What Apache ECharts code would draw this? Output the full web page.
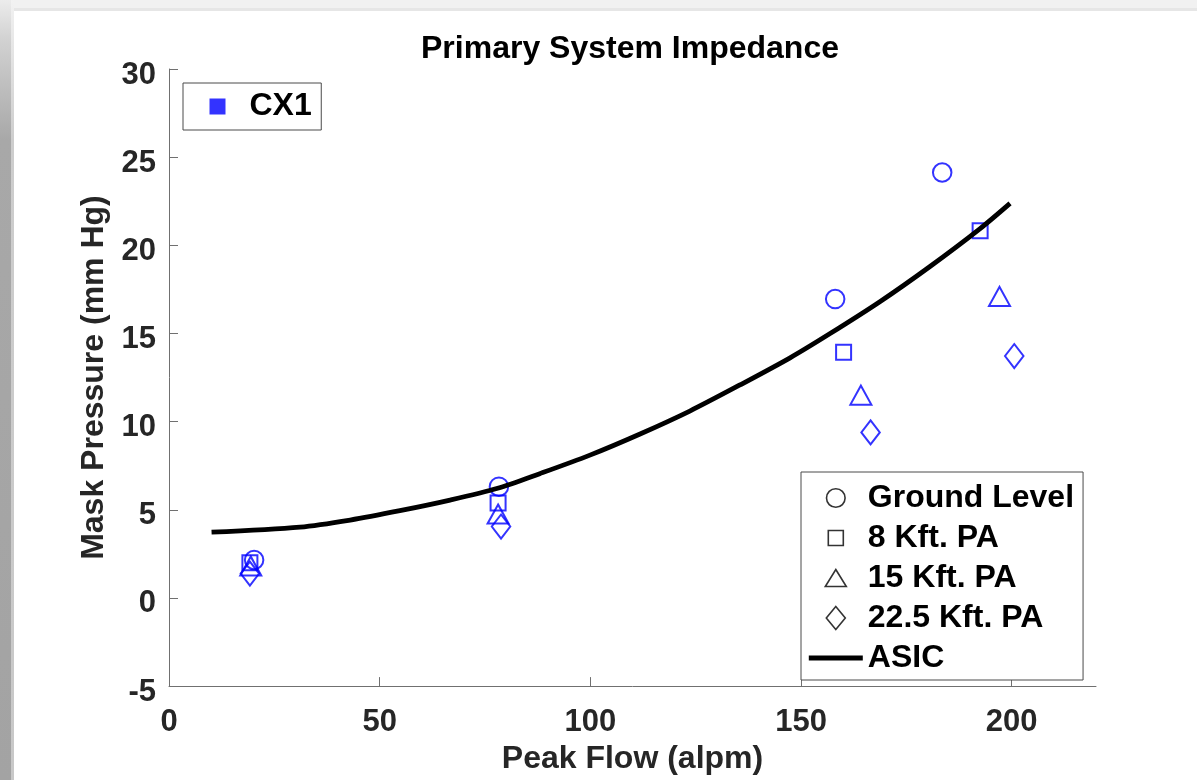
<!DOCTYPE html>
<html>
<head>
<meta charset="utf-8">
<script src="https://cdn.jsdelivr.net/npm/echarts@6/dist/echarts.min.js"></script>
<style>
html,body{margin:0;padding:0;background:#fff;}
#chart{width:1197px;height:780px;}
</style>
</head>
<body>
<div id="chart"></div>
<script>
// ---- data ----
var groundX = [20.2, 78.3, 158.1, 183.5];
var groundY = [2.15, 6.31, 16.95, 24.13];
var kft8X = [19.2, 78.1, 160.1, 192.5];
var kft8Y = [2.0, 5.39, 13.93, 20.82];
var kft15X = [19.4, 78.1, 164.2, 197.1];
var kft15Y = [1.81, 4.76, 11.5, 17.1];
var kft22X = [19.2, 78.8, 166.5, 200.6];
var kft22Y = [1.38, 4.05, 9.39, 13.72];
var asicX = [10.1, 31.1, 43.0, 54.8, 66.7, 78.0, 88.0, 99.9, 111.8, 123.6, 135.5, 147.4, 156.8, 168.7, 180.6, 192.5, 199.6];
var asicY = [3.73, 4.02, 4.42, 4.95, 5.55, 6.22, 7.05, 8.1, 9.3, 10.6, 12.08, 13.62, 14.98, 16.8, 18.8, 20.95, 22.38];
var xTicks = [0, 50, 100, 150, 200];
var seriesNames = ['Ground Level', '8 Kft. PA', '15 Kft. PA', '22.5 Kft. PA', 'ASIC'];
var groupName = 'CX1';

function pairs(xs, ys) { return xs.map(function (x, i) { return [x, ys[i]]; }); }

var FONT = '"Liberation Sans", Arial, Helvetica, sans-serif';
var BLUE = '#0000ff';
var markerStyle = { color: 'rgba(0,0,0,0)', borderColor: BLUE, borderWidth: 2 };
var legendMarkerStyle = { color: 'rgba(0,0,0,0)', borderColor: '#000', borderWidth: 1.6 };

var chart = echarts.init(document.getElementById('chart'), null, { renderer: 'canvas' });

var option = {
  backgroundColor: '#ffffff',
  animation: false,
  graphic: [
    { type: 'rect', silent: true, z: -10, shape: { x: 0, y: 0, width: 1197, height: 11 }, style: { fill: '#f1f1f1' } },
    { type: 'rect', silent: true, z: -10, shape: { x: 0, y: 8, width: 1197, height: 3 }, style: { fill: '#e6e6e6' } },
    { type: 'rect', silent: true, z: -9, shape: { x: 0, y: 0, width: 11, height: 780 },
      style: { fill: new echarts.graphic.LinearGradient(0, 0, 0, 1, [
        { offset: 0, color: '#ececec' }, { offset: 0.05, color: '#d2d2d2' },
        { offset: 0.18, color: '#a8a8a8' }, { offset: 1, color: '#a3a3a3' }]) } },
    { type: 'rect', silent: true, z: -9, shape: { x: 11, y: 0, width: 3, height: 780 },
      style: { fill: new echarts.graphic.LinearGradient(0, 0, 0, 1, [
        { offset: 0, color: '#f2f2f2' }, { offset: 0.18, color: '#cdcdcd' }, { offset: 1, color: '#c8c8c8' }]) } }
  ],
  title: {
    text: 'Primary System Impedance',
    left: 421, top: 33, padding: 0,
    textStyle: { fontFamily: FONT, fontSize: 32, fontWeight: 'bold', color: '#000' }
  },
  grid: { left: 169, right: 101, top: 69, bottom: 91, containLabel: false },
  xAxis: {
    type: 'value', min: 0, max: 220, interval: 50,
    name: 'Peak Flow (alpm)', nameLocation: 'middle', nameGap: 54,
    nameTextStyle: { fontFamily: FONT, fontSize: 32, fontWeight: 'bold', color: '#262626' },
    axisLine: { show: true, onZero: false, lineStyle: { color: '#707070', width: 1 } },
    axisTick: { show: true, inside: true, length: 9, customValues: xTicks, lineStyle: { color: '#707070', width: 1 } },
    axisLabel: { customValues: xTicks, margin: 21, fontFamily: FONT, fontSize: 31, fontWeight: 'bold', color: '#262626' },
    splitLine: { show: false }
  },
  yAxis: {
    type: 'value', min: -5, max: 30, interval: 5,
    name: 'Mask Pressure (mm Hg)', nameLocation: 'middle', nameGap: 44,
    nameTextStyle: { fontFamily: FONT, fontSize: 32, fontWeight: 'bold', color: '#262626' },
    axisLine: { show: true, onZero: false, lineStyle: { color: '#707070', width: 1 } },
    axisTick: { show: true, inside: true, length: 9, lineStyle: { color: '#707070', width: 1 } },
    axisLabel: { margin: 13, verticalAlign: 'top', lineHeight: 12, fontFamily: FONT, fontSize: 31, fontWeight: 'bold', color: '#262626' },
    splitLine: { show: false }
  },
  legend: [
    {
      data: [{ name: groupName, icon: 'path://M0 0M54 24M19 4L35 4L35 20L19 20Z', itemStyle: { color: BLUE, borderWidth: 0 } }],
      left: 183, top: 83, orient: 'vertical',
      padding: [5.5, 9.5, 5.5, 7.5],
      itemWidth: 54, itemHeight: 24, symbolKeepAspect: false, selectedMode: false,
      backgroundColor: '#fff', borderColor: '#4a4a4a', borderWidth: 1, borderRadius: 0,
      textStyle: { fontFamily: FONT, fontSize: 32, fontWeight: 'bold', color: '#000', lineHeight: 36 }
    },
    {
      data: [
        { name: seriesNames[0], icon: 'path://M0 0M54 24M36.3 12A9.3 9.3 0 1 1 17.7 12A9.3 9.3 0 1 1 36.3 12Z', itemStyle: legendMarkerStyle },
        { name: seriesNames[1], icon: 'path://M0 0M54 24M19.5 4.5L34.5 4.5L34.5 19.5L19.5 19.5Z', itemStyle: legendMarkerStyle },
        { name: seriesNames[2], icon: 'path://M0 0M54 24M27 3.5L37.5 20.5L16.5 20.5Z', itemStyle: legendMarkerStyle },
        { name: seriesNames[3], icon: 'path://M0 0M54 24M27 0.5L36.5 12L27 23.5L17.5 12Z', itemStyle: legendMarkerStyle },
        { name: seriesNames[4], icon: 'path://M0 0M54 24M0 9.6L54 9.6L54 14.4L0 14.4Z', itemStyle: { color: '#000', borderWidth: 0 } }
      ],
      left: 801, top: 472, orient: 'vertical', itemGap: 4,
      padding: [8, 9, 4, 7],
      itemWidth: 54, itemHeight: 24, symbolKeepAspect: false, selectedMode: false,
      backgroundColor: '#fff', borderColor: '#4a4a4a', borderWidth: 1, borderRadius: 0,
      textStyle: { fontFamily: FONT, fontSize: 32, fontWeight: 'bold', color: '#000', lineHeight: 36 }
    }
  ],
  series: [
    { name: seriesNames[0], type: 'scatter', symbol: 'circle', symbolSize: 18.5, data: pairs(groundX, groundY), itemStyle: markerStyle, emphasis: { disabled: true } },
    { name: seriesNames[1], type: 'scatter', symbol: 'rect', symbolSize: 15, data: pairs(kft8X, kft8Y), itemStyle: markerStyle, emphasis: { disabled: true } },
    { name: seriesNames[2], type: 'scatter', symbol: 'triangle', symbolSize: [21, 19], data: pairs(kft15X, kft15Y), itemStyle: markerStyle, emphasis: { disabled: true } },
    { name: seriesNames[3], type: 'scatter', symbol: 'diamond', symbolSize: [18.5, 24], data: pairs(kft22X, kft22Y), itemStyle: markerStyle, emphasis: { disabled: true } },
    { name: groupName, type: 'scatter', data: [], itemStyle: { color: BLUE } },
    { name: seriesNames[4], type: 'line', smooth: 0.3, showSymbol: false, data: pairs(asicX, asicY),
      lineStyle: { color: '#000', width: 4.8 }, itemStyle: { color: '#000' }, z: 3, emphasis: { disabled: true } }
  ]
};
chart.setOption(option);
</script>
</body>
</html>
